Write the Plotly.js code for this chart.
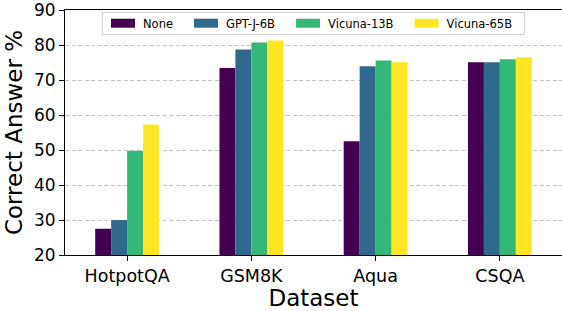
<!DOCTYPE html>
<html><head><meta charset="utf-8">
<script src="https://cdn.plot.ly/plotly-3.0.1.min.js"></script>
<style>html,body{margin:0;padding:0;background:#fff}#c{width:562px;height:311px}</style>
</head><body><div id="c"></div>
<script>
const categories = ["HotpotQA", "GSM8K", "Aqua", "CSQA"];
const seriesNames = ["None", "GPT-J-6B", "Vicuna-13B", "Vicuna-65B"];
const noneVals = [27.5, 73.4, 52.5, 75.1];
const gptjVals = [30.0, 78.7, 73.9, 75.1];
const vicuna13Vals = [49.8, 80.7, 75.6, 75.9];
const vicuna65Vals = [57.3, 81.3, 75.1, 76.5];
const colors = ["#440154", "#31688e", "#35b779", "#fde725"];
const yTicks = [20, 30, 40, 50, 60, 70, 80, 90];

const allVals = [noneVals, gptjVals, vicuna13Vals, vicuna65Vals];
const traces = allVals.map((v, i) => ({
  type: "bar", x: categories, y: v, name: seriesNames[i],
  marker: {color: colors[i], line: {width: 0}}
}));
const font = "DejaVu Sans, sans-serif";
const layout = {
  width: 562, height: 311,
  margin: {l: 65, r: 0, t: 10, b: 56},
  paper_bgcolor: "#fff", plot_bgcolor: "#fff",
  barmode: "group", bargap: 0.486, bargroupgap: 0,
  font: {family: font, color: "#000"},
  xaxis: {
    range: [-0.5, 3.5], showline: true, linecolor: "#000", linewidth: 1, mirror: true,
    ticks: "outside", ticklen: 5, tickcolor: "#000", showgrid: false,
    tickfont: {size: 17.5, family: font},
    title: {text: "Dataset", font: {size: 23, family: font}, standoff: 2}
  },
  yaxis: {
    range: [20, 90], tickvals: yTicks, showline: true, linecolor: "#000", linewidth: 1, mirror: true,
    ticks: "outside", ticklen: 5, tickcolor: "#000", ticklabeloverflow: "allow",
    showgrid: true, gridcolor: "#c4c4c4", griddash: "4px,2.5px", gridwidth: 1,
    zeroline: false, tickfont: {size: 17, family: font},
    title: {text: "Correct Answer %", font: {size: 23, family: font}, standoff: 4}
  },
  legend: {
    orientation: "h", x: 0.5, xanchor: "center", y: 0.993, yanchor: "top",
    bgcolor: "rgba(255,255,255,0.9)", bordercolor: "#d0d0d0", borderwidth: 1,
    font: {size: 11.5, family: font}
  },
  showlegend: true
};
Plotly.newPlot("c", traces, layout, {staticPlot: true, displayModeBar: false}).then(gd => {
  const extra = 8;
  const leg = gd.querySelector(".legend");
  gd.querySelectorAll(".legendpoints path").forEach(p => p.setAttribute("d", "M12,4.5H-12V-4.5H12Z"));
  leg.querySelectorAll("[clip-path]").forEach(el => el.removeAttribute("clip-path"));
  const bg = leg.querySelector("rect.bg");
  const oldH = parseFloat(bg.getAttribute("height"));
  const newH = 22;
  const dy = (oldH - newH) / 2;
  const items = leg.querySelectorAll(".traces");
  items.forEach((g, i) => {
    const m = /translate\(([-\d.]+)[ ,]+([-\d.]+)\)/.exec(g.getAttribute("transform"));
    if (m) g.setAttribute("transform", `translate(${parseFloat(m[1]) + i * extra},${parseFloat(m[2]) - dy})`);
  });
  const add = extra * (items.length - 1) + 6;
  bg.setAttribute("width", parseFloat(bg.getAttribute("width")) + add);
  bg.setAttribute("height", newH);
  const lm = /translate\(([-\d.]+)[ ,]+([-\d.]+)\)/.exec(leg.getAttribute("transform"));
  if (lm) leg.setAttribute("transform", `translate(${parseFloat(lm[1]) - add / 2},${lm[2]})`);
});
</script></body></html>
